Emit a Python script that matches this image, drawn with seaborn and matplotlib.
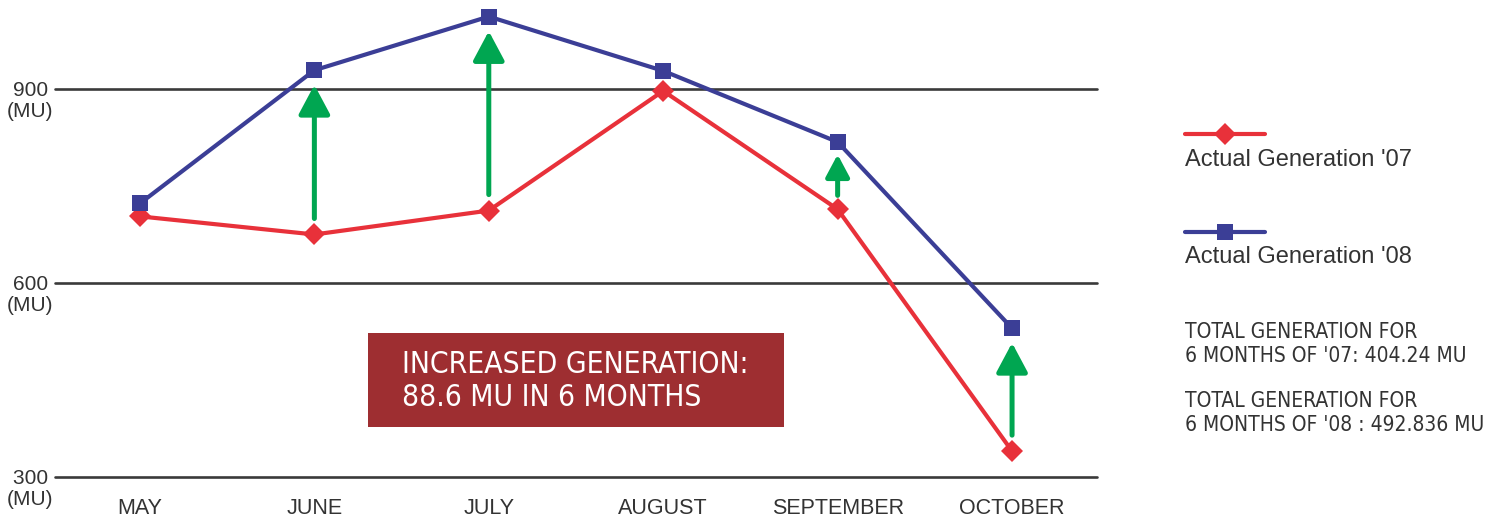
import numpy as np
import pandas as pd
import seaborn as sns
import matplotlib
matplotlib.use("Agg")
import matplotlib.pyplot as plt
from matplotlib import font_manager as fm
from matplotlib.patches import Rectangle
from matplotlib.lines import Line2D
from matplotlib.transforms import ScaledTranslation

months = ["MAY", "JUNE", "JULY", "AUGUST", "SEPTEMBER", "OCTOBER"]
gen_07 = [703, 675, 712, 897, 714, 340]
gen_08 = [723, 929, 1012, 928, 818, 530]
arrow_months = ["JUNE", "JULY", "SEPTEMBER", "OCTOBER"]
ytick_values = [300, 600, 900]
ytick_labels = ["300 \n(MU)", "600 \n(MU)", "900 \n(MU)"]
series_labels = ["Actual Generation '07", "Actual Generation '08"]
box_text = "INCREASED GENERATION:\n88.6 MU IN 6 MONTHS"
totals_07 = "TOTAL GENERATION FOR\n6 MONTHS OF '07: 404.24 MU"
totals_08 = "TOTAL GENERATION FOR\n6 MONTHS OF '08 : 492.836 MU"

RED = "#e8313a"
BLUE = "#3b3e96"
GREEN = "#00a651"
BOX = "#9e2e31"
GRID = "#3a3a3a"
TXT = "#333333"

sns.set_theme(style="white")
plt.rcParams["font.family"] = ["Liberation Sans", "DejaVu Sans"]

names = {f.name for f in fm.fontManager.ttflist}
if "Liberation Sans Narrow" in names:
    cond = dict(family="Liberation Sans Narrow")
else:
    cond = dict(family="DejaVu Sans", fontstretch="condensed")

fig = plt.figure(figsize=(14.88, 5.2), dpi=100)
W, H = 1488, 520
ax = fig.add_axes([55 / W, 43 / H, 1042 / W, 477 / H])

df = pd.DataFrame({"x": np.arange(len(months)), "g07": gen_07, "g08": gen_08})

for y in ytick_values:
    ax.axhline(y, color=GRID, lw=1.9, zorder=1, clip_on=False)

sns.lineplot(data=df, x="x", y="g07", ax=ax, color=RED, lw=3, marker="D",
             markersize=11, markeredgewidth=0, zorder=3, clip_on=False)
sns.lineplot(data=df, x="x", y="g08", ax=ax, color=BLUE, lw=3, marker="s",
             markersize=11.5, markeredgewidth=0, zorder=3, clip_on=False)

for m in arrow_months:
    i = months.index(m)
    small = (df.g08[i] - df.g07[i]) < 150
    ms = 0.75 if small else 1.0
    ax.annotate("", xy=(i, df.g08[i]), xytext=(i, df.g07[i]),
                arrowprops=dict(arrowstyle=f"-|>,head_length={0.9*ms},head_width={0.48*ms}",
                                mutation_scale=20, color=GREEN, lw=3.6,
                                shrinkA=10 if small else 11.5, shrinkB=9 if small else 10.5),
                zorder=2)

ax.set_xlim(-0.487, 5.487)
ax.set_ylim(300, 1037.6)
ax.set_xticks(np.arange(len(months)))
ax.set_xticklabels(months, fontsize=15.5, color=TXT)
ax.set_yticks(ytick_values)
ax.set_yticklabels(ytick_labels, fontsize=15, color=TXT, linespacing=1.15)
ax.tick_params(axis="x", length=0, pad=15)
ax.tick_params(axis="y", length=0, pad=1)
for lbl in ax.get_yticklabels():
    lbl.set_verticalalignment("top")
    lbl.set_transform(lbl.get_transform() + ScaledTranslation(0, 6.0 / 72, fig.dpi_scale_trans))
ax.set_xlabel("")
ax.set_ylabel("")
for s in ax.spines.values():
    s.set_visible(False)
ax.patch.set_alpha(0)

# annotation box
fig.patches.append(Rectangle((368 / W, 1 - 427 / H), 416 / W, 94 / H,
                             transform=fig.transFigure, facecolor=BOX, edgecolor="none", zorder=0))
fig.text(402 / W, 1 - 381 / H, box_text, color="white", fontsize=21.5, va="center", ha="left",
         linespacing=1.15, **cond)

# legend
for c, mk, msz, y in [(RED, "D", 11, 134), (BLUE, "s", 11.5, 232)]:
    fig.add_artist(Line2D([1185 / W, 1265 / W], [1 - y / H, 1 - y / H], transform=fig.transFigure,
                          color=c, lw=3))
    fig.add_artist(Line2D([1225 / W], [1 - y / H], transform=fig.transFigure,
                          color=c, lw=0, marker=mk, markersize=msz, markeredgewidth=0))
fig.text(1185 / W, 1 - 160 / H, series_labels[0], fontsize=17, color=TXT, va="center", ha="left")
fig.text(1185 / W, 1 - 257 / H, series_labels[1], fontsize=17, color=TXT, va="center", ha="left")

fig.text(1185 / W, 1 - 344 / H, totals_07, fontsize=15, color=TXT, va="center", ha="left",
         linespacing=1.2, **cond)
fig.text(1185 / W, 1 - 413 / H, totals_08, fontsize=15, color=TXT, va="center", ha="left",
         linespacing=1.2, **cond)

fig.savefig("out.png", dpi=100)
